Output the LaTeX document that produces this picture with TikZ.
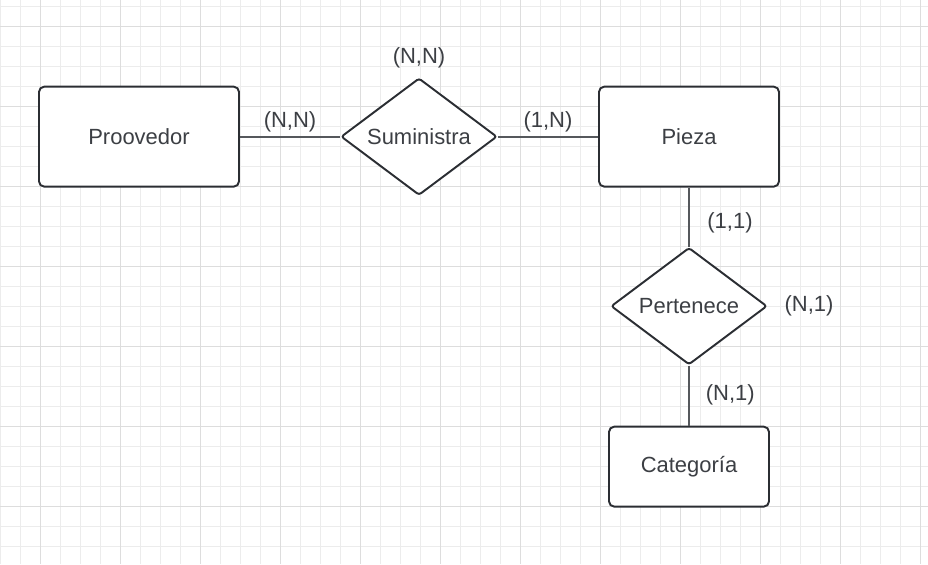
\documentclass[tikz,border=0pt]{standalone}
\usepackage{fontspec}
\setmainfont{Liberation Sans}
\usepackage{xcolor}
\usetikzlibrary{shapes, arrows}

\definecolor{textgray}{RGB}{60,63,68}
\definecolor{boxline}{RGB}{43,46,51}
\definecolor{edgegray}{RGB}{85,88,92}
\definecolor{minorgrid}{RGB}{236,236,236}
\definecolor{majorgrid}{RGB}{221,221,221}

\begin{document}
\begin{tikzpicture}[node distance=5.6cm, auto, inner sep=2pt, text=textgray, font=\fontsize{12.5}{15}\selectfont]

	\tikzstyle{entity} = [draw=boxline, line width=1.1pt, rectangle, rounded corners=3pt, fill=white, minimum width=4cm, minimum height=2cm, inner sep=0pt]
	
	\tikzstyle{relation} = [draw=boxline, line width=1.1pt, diamond, rounded corners=1.5pt, fill=white, aspect=1.33, minimum width=3.12cm, minimum height=2.34cm, inner sep=0pt]
	
	\tikzstyle{blank} = [inner sep=2pt]
	
	\tikzstyle{line} = [draw=edgegray, line width=1pt]
	
	\useasboundingbox (0,0) rectangle (18.56,-11.28);
	\fill[white] (0,0) rectangle (18.56,-11.28);
	
	% grid
	\foreach \i in {0,...,46} \draw[minorgrid, line width=0.55pt] (\i*0.4,0) -- (\i*0.4,-11.28);
	\foreach \j in {0,...,27} \draw[minorgrid, line width=0.55pt] (0,-0.1333-\j*0.4) -- (18.56,-0.1333-\j*0.4);
	\foreach \i in {0,...,11} \draw[majorgrid, line width=0.55pt] (0.8+\i*1.6,0) -- (0.8+\i*1.6,-11.28);
	\foreach \j in {0,...,6} \draw[majorgrid, line width=0.55pt] (0,-0.5333-\j*1.6) -- (18.56,-0.5333-\j*1.6);
	
	\node[entity] (proovedor) at (2.78,-2.733) {Proovedor};
	\node[relation] (suministra) [right of=proovedor] {Suministra};
	\node[entity, minimum width=3.6cm, node distance=5.4cm] (pieza) [right of=suministra] {Pieza};
	\node[relation, node distance=3.39cm] (pertenece) [below of=pieza] {Pertenece};
	\node[entity, minimum width=3.2cm, minimum height=1.6cm, node distance=3.21cm] (categoria) [below of=pertenece] {Categoría};
	
	\node[blank, node distance=1.58cm] (suministra card) [above of=suministra] {(N,N)};
	\node[blank, node distance=2.4cm] (pertenece card) [right of=pertenece] {(N,1)};
	
	\path [line] (proovedor) edge              node {(N,N)} (suministra);
	\path [line] (suministra) edge              node {(1,N)} (pieza);
	\path [line] (pieza) edge              node [pos=0.6, xshift=0.28cm] {(1,1)} (pertenece);
	\path [line] (pertenece) edge              node [pos=0.48, xshift=0.25cm] {(N,1)} (categoria);
	
\end{tikzpicture}
\end{document}
